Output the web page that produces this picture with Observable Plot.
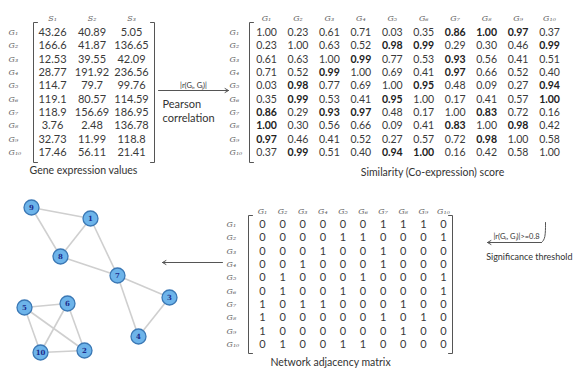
<!DOCTYPE html>
<html><head><meta charset="utf-8">
<script src="https://cdn.jsdelivr.net/npm/d3@7"></script>
<script src="https://cdn.jsdelivr.net/npm/@observablehq/plot@0.6"></script>
<style>
body{margin:0;background:#fff;}
#fig{position:relative;width:574px;height:368px;overflow:hidden;}
#fig svg{position:absolute;left:0;top:0;background:transparent;}
</style></head><body><div id="fig"></div>
<script>
// ---------- data ----------
const genes = ["G1","G2","G3","G4","G5","G6","G7","G8","G9","G10"];
const samples = ["S1","S2","S3"];
const expression = [
  [43.26, 40.89, 5.05],
  [166.6, 41.87, 136.65],
  [12.53, 39.55, 42.09],
  [28.77, 191.92, 236.56],
  [114.7, 79.7, 99.76],
  [119.1, 80.57, 114.59],
  [118.9, 156.69, 186.95],
  [3.76, 2.48, 136.78],
  [32.73, 11.99, 118.8],
  [17.46, 56.11, 21.41]
];
const similarity = [
  [1.00,0.23,0.61,0.71,0.03,0.35,0.86,1.00,0.97,0.37],
  [0.23,1.00,0.63,0.52,0.98,0.99,0.29,0.30,0.46,0.99],
  [0.61,0.63,1.00,0.99,0.77,0.53,0.93,0.56,0.41,0.51],
  [0.71,0.52,0.99,1.00,0.69,0.41,0.97,0.66,0.52,0.40],
  [0.03,0.98,0.77,0.69,1.00,0.95,0.48,0.09,0.27,0.94],
  [0.35,0.99,0.53,0.41,0.95,1.00,0.17,0.41,0.57,1.00],
  [0.86,0.29,0.93,0.97,0.48,0.17,1.00,0.83,0.72,0.16],
  [1.00,0.30,0.56,0.66,0.09,0.41,0.83,1.00,0.98,0.42],
  [0.97,0.46,0.41,0.52,0.27,0.57,0.72,0.98,1.00,0.58],
  [0.37,0.99,0.51,0.40,0.94,1.00,0.16,0.42,0.58,1.00]
];
const threshold = 0.8;
const adjacency = [
  [0,0,0,0,0,0,1,1,1,0],
  [0,0,0,0,1,1,0,0,0,1],
  [0,0,0,1,0,0,1,0,0,0],
  [0,0,1,0,0,0,1,0,0,0],
  [0,1,0,0,0,1,0,0,0,1],
  [0,1,0,0,1,0,0,0,0,1],
  [1,0,1,1,0,0,0,1,0,0],
  [1,0,0,0,0,0,1,0,1,0],
  [1,0,0,0,0,0,0,1,0,0],
  [0,1,0,0,1,1,0,0,0,0]
];
// network layout (node positions as drawn)
const nodeIds = [1,2,3,4,5,6,7,8,9,10];
const nodeX = [90,84,169,138,24,67,117,60,31,40];
const nodeY = [218,350,297,336,307,303,275,256,207,352];

// ---------- helpers ----------
const W = 574, H = 368;
const SUB = "₀₁₂₃₄₅₆₇₈₉";
const sub = s => s[0] + s.slice(1).replace(/\d/g, d => SUB[d]);
const valFont = "Lato, 'Open Sans', sans-serif";
const labFont = "'DejaVu Serif', serif";
const fig = document.getElementById("fig");

function matrixPlot({cols, rows, values, fmt, bold, px, py, labelDx, headerDy, bracket, fontSize}) {
  const n = cols.length, m = rows.length;
  const sx = (px[1]-px[0])/(n-1), sy = (py[1]-py[0])/(m-1);
  const cells = [];
  values.forEach((r,i) => r.forEach((v,j) => cells.push({r:i+1, c:j+1, v, b: bold(v,i,j)})));
  const bx = o => 1 + o/sx, by = o => 1 + o/sy;
  const tick = 4/sx;
  const leftB = [
    {x: bx(bracket.l)+tick, y: by(bracket.t)}, {x: bx(bracket.l), y: by(bracket.t)},
    {x: bx(bracket.l), y: m + bracket.b/sy}, {x: bx(bracket.l)+tick, y: m + bracket.b/sy}
  ];
  const marks = [
    Plot.line(leftB, {x:"x", y:"y", stroke:"#555", strokeWidth:1}),
    Plot.text(cells.filter(d=>!d.b), {x:"c", y:"r", text: d=>fmt(d.v), fontSize, fontFamily: valFont, fill:"#3a3a3a"}),
    Plot.text(cells.filter(d=>d.b), {x:"c", y:"r", text: d=>fmt(d.v), fontSize, fontFamily: valFont, fill:"#222", fontWeight:"bold"}),
    Plot.text(cols, {x:(d,i)=>i+1, y:()=>0, dy: headerDy, text: sub, fontSize: 8, fontStyle:"italic", fontFamily: labFont, fill:"#666"}),
    Plot.text(rows, {x:()=>1, y:(d,i)=>i+1, dx: labelDx, text: sub, textAnchor:"start", fontSize: 8, fontStyle:"italic", fontFamily: labFont, fill:"#666"})
  ];
  if (bracket.r != null) {
    const rx = n + bracket.r/sx;
    marks.push(Plot.line([
      {x: rx-tick, y: by(bracket.t)}, {x: rx, y: by(bracket.t)},
      {x: rx, y: m + bracket.b/sy}, {x: rx-tick, y: m + bracket.b/sy}
    ], {x:"x", y:"y", stroke:"#555", strokeWidth:1}));
  }
  return Plot.plot({
    width: W, height: H, margin: 0,
    style: {background: "transparent", overflow: "visible"},
    x: {domain: [1, n], range: px, axis: null},
    y: {domain: [1, m], range: py, axis: null},
    marks
  });
}

// Panel A: gene expression
fig.append(matrixPlot({
  cols: samples, rows: genes, values: expression, fmt: v => String(v),
  bold: () => false, px: [52, 131], py: [32, 152], labelDx: -44, headerDy: -1,
  bracket: {l: -19, r: 23, t: -10, b: 10}, fontSize: 11
}));
// Panel B: similarity
fig.append(matrixPlot({
  cols: genes, rows: genes, values: similarity, fmt: v => v.toFixed(2),
  bold: (v,i,j) => i !== j && v >= threshold, px: [266, 549], py: [32, 152], labelDx: -37, headerDy: -1,
  bracket: {l: -17, r: null, t: -10, b: 10}, fontSize: 10.5
}));
// Panel C: adjacency
fig.append(matrixPlot({
  cols: genes, rows: genes, values: adjacency, fmt: v => String(v),
  bold: () => false, px: [262, 443], py: [224, 344], labelDx: -36, headerDy: 0,
  bracket: {l: -14, r: 9, t: -9, b: 9}, fontSize: 11
}));

// Network + annotations
const nodes = nodeIds.map((id,i) => ({id, x: nodeX[i], y: nodeY[i]}));
const edges = [];
adjacency.forEach((r,i) => r.forEach((v,j) => { if (v && j > i) edges.push({a: nodes[i], b: nodes[j]}); }));

const arrows = [
  {x1: 158, y1: 90, x2: 228, y2: 90},
  {x1: 222, y1: 262, x2: 162, y2: 262},
  {x1: 541, y1: 242, x2: 487, y2: 242}
];
const hook = [{x:545,y:222},{x:545,y:238},{x:541,y:242}];
const notes = [
  {x: 193, y: 85, t: "|r(Gᵢ, Gⱼ)|", s: 7.5, a: "middle"},
  {x: 162, y: 104, t: "Pearson", s: 11, a: "start"},
  {x: 162, y: 118, t: "correlation", s: 11, a: "start"},
  {x: 83, y: 170, t: "Gene expression values", s: 10.5, a: "middle"},
  {x: 432, y: 172, t: "Similarity (Co-expression) score", s: 10.5, a: "middle"},
  {x: 330, y: 362, t: "Network adjacency matrix", s: 10.5, a: "middle"},
  {x: 516, y: 236, t: "|r(Gᵢ, Gⱼ)|>=0.8", s: 7.5, a: "middle"},
  {x: 572, y: 257, t: "Significance threshold", s: 9, a: "end"}
];

fig.append(Plot.plot({
  width: W, height: H, margin: 0,
  style: {background: "transparent"},
  x: {domain: [0, W], range: [0, W], axis: null},
  y: {domain: [0, H], range: [0, H], axis: null},
  marks: [
    Plot.link(edges, {x1: d=>d.a.x, y1: d=>d.a.y, x2: d=>d.b.x, y2: d=>d.b.y, stroke: "#cfcfcf", strokeWidth: 1.6}),
    Plot.dot(nodes, {x:"x", y:"y", r: 7.5, fill: "#6db4ea", stroke: "#3b78b5", strokeWidth: 1.3}),
    Plot.text(nodes, {x:"x", y:"y", text: d=>String(d.id), fontSize: 7, fontWeight: "bold", fontFamily: labFont, fill: "#1c2b8c"}),
    Plot.arrow(arrows, {x1:"x1", y1:"y1", x2:"x2", y2:"y2", stroke: "#555", strokeWidth: 1, headLength: 6, bend: 0}),
    Plot.line(hook, {x:"x", y:"y", stroke:"#555", strokeWidth:1, curve:"basis"}),
    Plot.text(notes.filter(d=>d.a==="start"), {x:"x", y:"y", text:"t", fontSize: d=>d.s, textAnchor: "start", fontFamily: valFont, fill: "#333"}),
    Plot.text(notes.filter(d=>d.a==="middle"), {x:"x", y:"y", text:"t", fontSize: d=>d.s, textAnchor: "middle", fontFamily: valFont, fill: "#333"}),
    Plot.text(notes.filter(d=>d.a==="end"), {x:"x", y:"y", text:"t", fontSize: d=>d.s, textAnchor: "end", fontFamily: valFont, fill: "#333"})
  ]
}));
</script></body></html>
